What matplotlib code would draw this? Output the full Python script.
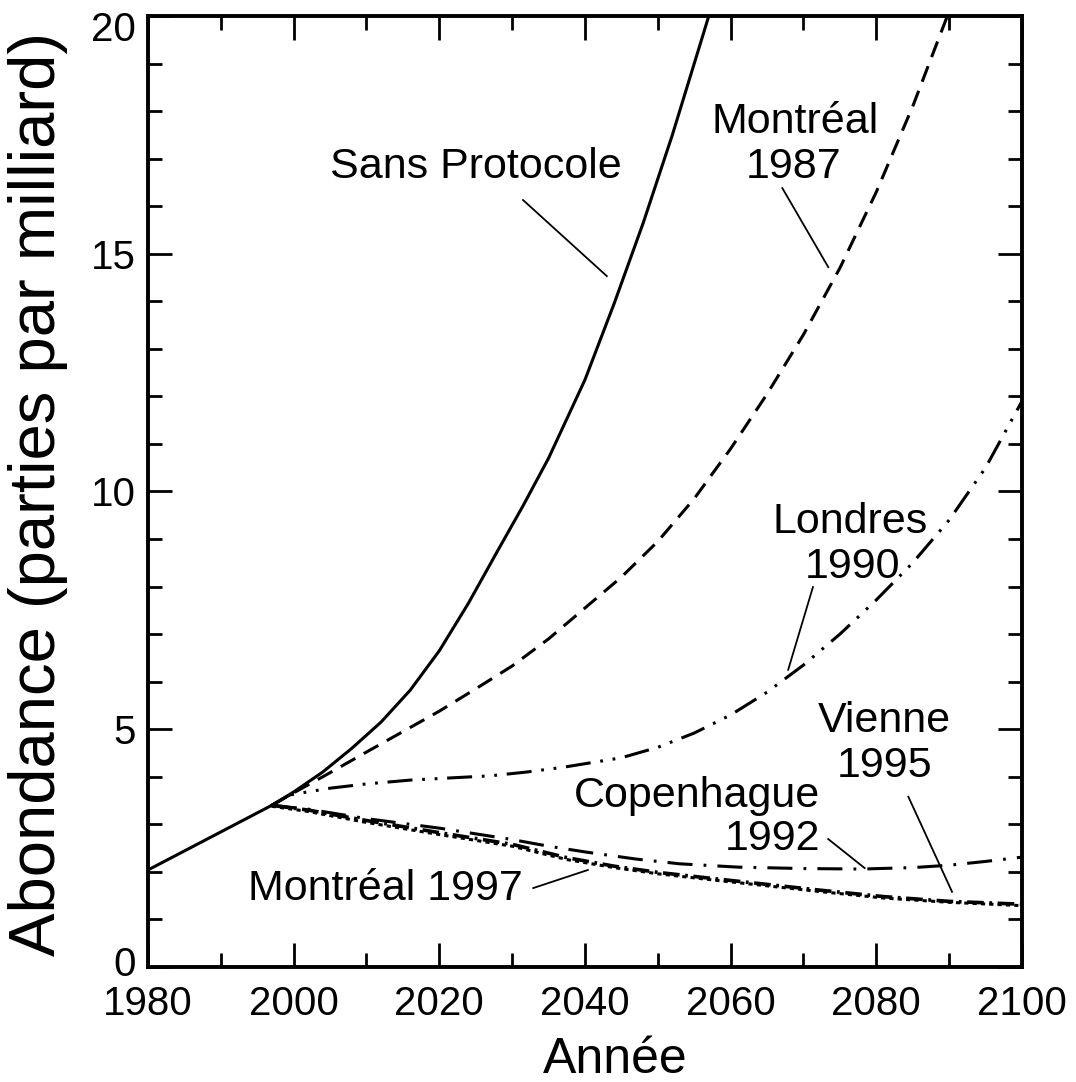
import numpy as np
import matplotlib
matplotlib.use("Agg")
import matplotlib.pyplot as plt
import matplotlib.transforms as mtransforms

plt.rcParams["font.family"] = ["Liberation Sans", "DejaVu Sans"]
plt.rcParams["lines.scale_dashes"] = False

# ----------------------------
# Data
# ----------------------------

hist_years = [1980, 1988, 1997]
hist_vals = [2.04, 2.68, 3.40]

sans_years = [1997, 2000, 2004, 2008, 2012, 2016, 2020, 2024, 2028, 2031.5, 2035, 2040, 2044, 2048, 2052, 2057]
sans_vals = [3.40, 3.68, 4.10, 4.60, 5.15, 5.82, 6.65, 7.65, 8.75, 9.70, 10.70, 12.35, 13.95, 15.65, 17.50, 20.00]

m1987_years = [1997, 1999.5, 2004, 2010, 2015, 2020, 2025, 2030, 2035, 2040, 2045, 2050, 2055, 2060, 2065, 2070, 2075, 2080, 2085, 2090]
m1987_vals = [3.40, 3.62, 4.00, 4.52, 4.95, 5.38, 5.85, 6.33, 6.90, 7.55, 8.20, 8.95, 9.85, 10.90, 12.05, 13.30, 14.70, 16.30, 18.10, 20.10]

lon_years = [1997, 1999.5, 2005, 2010, 2016, 2022, 2027, 2032, 2037, 2041, 2045, 2050, 2055, 2060, 2065, 2070, 2075, 2080, 2085, 2090, 2095, 2100]
lon_vals = [3.40, 3.62, 3.76, 3.85, 3.93, 3.98, 4.02, 4.10, 4.20, 4.30, 4.40, 4.62, 4.92, 5.30, 5.78, 6.35, 7.00, 7.72, 8.50, 9.40, 10.50, 11.90]

cop_years = [1997, 2002, 2010, 2020, 2030, 2035, 2040, 2047, 2053, 2061, 2070, 2078, 2085, 2090, 2095, 2100]
cop_vals = [3.40, 3.32, 3.12, 2.92, 2.68, 2.54, 2.42, 2.27, 2.17, 2.10, 2.07, 2.06, 2.09, 2.14, 2.22, 2.31]

vie_years = [1997, 2002, 2010, 2019, 2030, 2037.5, 2044, 2050, 2057, 2063, 2072, 2081, 2090, 2100]
vie_vals = [3.40, 3.30, 3.08, 2.85, 2.58, 2.30, 2.12, 1.99, 1.87, 1.77, 1.62, 1.48, 1.38, 1.32]

m1997_years = [1997, 2002, 2010, 2019, 2030, 2037.5, 2044, 2050, 2057, 2063, 2072, 2081, 2090, 2100]
m1997_vals = [3.38, 3.27, 3.04, 2.81, 2.54, 2.26, 2.09, 1.96, 1.84, 1.74, 1.59, 1.45, 1.36, 1.29]

x_ticks = [1980, 2000, 2020, 2040, 2060, 2080, 2100]
y_ticks = [0, 5, 10, 15, 20]

# label text, anchor (year, value), alignment, leader start, leader end
labels = [
    ("Sans Protocole", 2025.0, 16.59, "center", (2031.5, 16.13), (2043.0, 14.53)),
    ("Montréal", 2068.8, 17.54, "center", None, None),
    ("1987", 2068.6, 16.59, "center", (2067.1, 16.38), (2073.4, 14.72)),
    ("Londres", 2076.4, 9.13, "center", None, None),
    ("1990", 2076.7, 8.18, "center", (2071.3, 7.99), (2067.9, 6.25)),
    ("Vienne", 2081.1, 4.94, "center", None, None),
    ("1995", 2081.2, 3.99, "center", (2084.4, 3.58), (2090.4, 1.58)),
    ("Copenhague", 2072.3, 3.36, "right", None, None),
    ("1992", 2072.3, 2.46, "right", (2073.4, 2.69), (2078.4, 2.08)),
    ("Montréal 1997", 2012.6, 1.41, "center", (2032.9, 1.66), (2040.4, 2.04)),
]


fig = plt.figure(figsize=(10.76, 10.82), dpi=100)
ax = fig.add_axes([0.1375, 0.1063, 0.8123, 0.8789])

lw = 2.2
ax.plot(hist_years, hist_vals, color="black", lw=lw)
ax.plot(sans_years, sans_vals, color="black", lw=lw)
ax.plot(m1987_years, m1987_vals, color="black", lw=lw, dashes=(12, 7))
ax.plot(lon_years, lon_vals, color="black", lw=lw, dashes=(18, 7, 2, 7, 2, 7))
ax.plot(cop_years, cop_vals, color="black", lw=lw, dashes=(18, 8, 2, 8))
ax.plot(vie_years, vie_vals, color="black", lw=lw + 0.4, dashes=(12, 4, 2, 4))
ax.plot(m1997_years, m1997_vals, color="black", lw=lw, dashes=(3, 3))

for text, x, y, ha, p0, p1 in labels:
    ax.text(x, y, text, ha=ha, va="baseline", fontsize=31)
    if p0 is not None:
        ax.plot([p0[0], p1[0]], [p0[1], p1[1]], color="black", lw=1.3)

ax.set_xlim(1980, 2100)
ax.set_ylim(0, 20)
ax.set_xticks(x_ticks)
ax.set_xticks(np.arange(1990, 2100, 20), minor=True)
ax.set_yticks(y_ticks)
ax.set_yticks([v for v in range(21) if v % 5], minor=True)
ax.set_xticklabels([str(v) for v in x_ticks])
ax.set_yticklabels([str(v) for v in y_ticks])

ax.tick_params(which="both", direction="in", top=True, right=True, width=2, labelsize=29)
ax.tick_params(which="major", length=17)
ax.tick_params(which="minor", length=10)
ax.tick_params(axis="x", pad=13)
ax.tick_params(axis="y", pad=9)

# the end labels of the y axis sit slightly inside, as in the original
ylabels = ax.get_yticklabels()
ylabels[0].set_transform(ylabels[0].get_transform() +
                         mtransforms.ScaledTranslation(0, 6 / 100, fig.dpi_scale_trans))
ylabels[-1].set_transform(ylabels[-1].get_transform() +
                          mtransforms.ScaledTranslation(0, -10 / 100, fig.dpi_scale_trans))

for spine in ax.spines.values():
    spine.set_linewidth(2.8)

fig.text(615 / 1076, 1 - 1060 / 1082, "Année", ha="center", va="center", fontsize=36)
fig.text(38 / 1076, 1 - 494 / 1082, "Abondance (parties par milliard)",
         ha="center", va="center", rotation=90, fontsize=47)

fig.savefig("out.png", dpi=100)
